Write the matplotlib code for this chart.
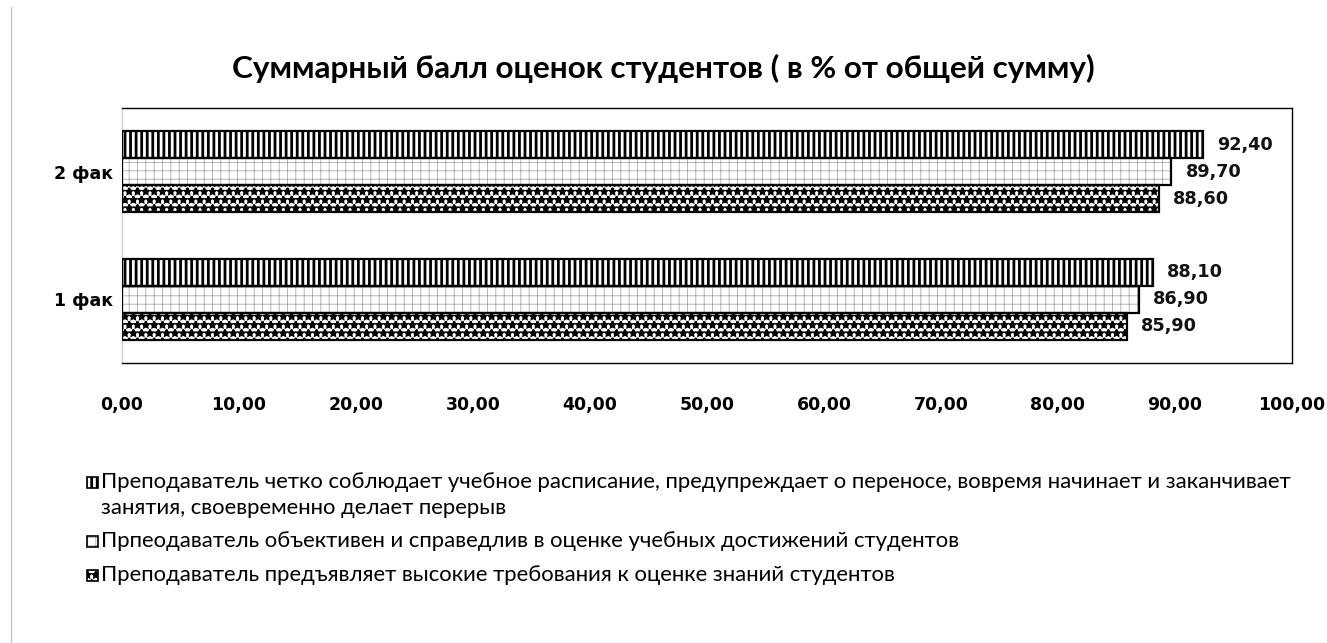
import matplotlib
matplotlib.use("Agg")
import matplotlib.pyplot as plt
from matplotlib.patches import Rectangle, Patch
from matplotlib.lines import Line2D

# ---------------- data ----------------
categories = ["1 фак", "2 фак"]
schedule = [88.10, 92.40]       # series 1
objective = [86.90, 89.70]      # series 2
requirements = [85.90, 88.60]   # series 3
series_labels = [
    ["Преподаватель четко соблюдает учебное расписание, предупреждает о переносе, вовремя начинает и заканчивает",
     "занятия, своевременно делает перерыв"],
    ["Прпеодаватель объективен и справедлив в оценке учебных достижений студентов"],
    ["Преподаватель предъявляет высокие требования к оценке знаний студентов"],
]
x_ticks = [0, 10, 20, 30, 40, 50, 60, 70, 80, 90, 100]
x_tick_labels = ["0,00", "10,00", "20,00", "30,00", "40,00", "50,00",
                 "60,00", "70,00", "80,00", "90,00", "100,00"]
title = "Суммарный балл оценок студентов ( в % от общей сумму)"

# ---------------- styles ----------------
W, H = 1327, 643
per_artist = hasattr(Patch, "set_hatch_linewidth")
if per_artist:
    styles = [
        dict(hatch="|||", hcolor="black", hlw=2.0),
        dict(hatch="++", hcolor="#9a9a9a", hlw=0.5),
        dict(hatch="**", hcolor="black", hlw=1.5),
    ]
else:
    plt.rcParams["hatch.linewidth"] = 1.9
    styles = [
        dict(hatch="|||", hcolor="black", hlw=1.9),
        dict(hatch="++", hcolor="#d4d4d4", hlw=1.9),
        dict(hatch="**", hcolor="black", hlw=1.9),
    ]
num_font = ["DejaVu Sans"]
txt_font = ["Lato", "DejaVu Sans"]

fig = plt.figure(figsize=(W / 100, H / 100), dpi=100)
ax = fig.add_axes([122 / W, 1 - 363 / H, (1292 - 122) / W, (363 - 108) / H])

bar_h = 0.212
series = [schedule, objective, requirements]
offsets = [bar_h, 0.0, -bar_h]
ypos = list(range(len(categories)))

for vals, off, st in zip(series, offsets, styles):
    y = [p + off for p in ypos]
    hb = ax.barh(y, vals, height=bar_h, color="white", edgecolor=st["hcolor"],
                 linewidth=0, hatch=st["hatch"], zorder=2)
    if per_artist:
        for b in hb:
            b.set_hatch_linewidth(st["hlw"])
    ob = ax.barh(y, vals, height=bar_h, fill=False, edgecolor="black",
                 linewidth=1.6, zorder=3)
    ax.bar_label(ob, labels=[f"{v:.2f}".replace(".", ",") for v in vals],
                 padding=10, fontsize=12.7, fontweight="bold",
                 family=num_font, color="#111111")

ax.set_xlim(0, 100)
ax.set_ylim(-0.5, 1.5)
ax.set_xticks(x_ticks)
ax.set_xticklabels(x_tick_labels, fontsize=12.5, fontweight="bold", family=num_font)
ax.set_yticks(ypos)
ax.set_yticklabels(categories, fontsize=12.5, fontweight="bold", family=num_font)
ax.tick_params(axis="x", length=0, pad=24)
ax.tick_params(axis="y", length=0, pad=6.5)
for s in ["top", "right", "bottom"]:
    ax.spines[s].set_color("black")
    ax.spines[s].set_linewidth(1.0)
ax.spines["left"].set_color("#d0d0d0")
ax.spines["left"].set_linewidth(1.0)

# title
t = fig.text(0.5, 1 - 68 / H, title, ha="center", va="center",
             fontsize=20, fontweight="bold", family=txt_font)

# chart-area left border
fig.add_artist(Line2D([10.5 / W, 10.5 / W], [0, 1 - 7 / H], color="#c8c8c8", lw=1.0))

# legend (manual layout)
renderer = fig.canvas.get_renderer()
line_y = [[482, 508], [541], [575]]
texts = []
for labels, ys, st in zip(series_labels, line_y, styles):
    for lab, yy in zip(labels, ys):
        tx = fig.text(101 / W, 1 - yy / H, lab, ha="left", va="center",
                      fontsize=14, family=txt_font)
        texts.append(tx)
    msz = 11
    x0, y0 = 87 / W, 1 - (ys[0] + msz / 2) / H
    hp = Rectangle((x0, y0), msz / W, msz / H, transform=fig.transFigure,
                   facecolor="white", edgecolor=st["hcolor"], linewidth=0,
                   hatch=st["hatch"])
    if per_artist:
        hp.set_hatch_linewidth(st["hlw"])
    fig.add_artist(hp)
    fig.add_artist(Rectangle((x0, y0), msz / W, msz / H, transform=fig.transFigure,
                             fill=False, edgecolor="black", linewidth=1.2))

# fit text widths to the reference
w = texts[0].get_window_extent(renderer).width
fs = 14 * (1297 - 101) / w
for tx in texts:
    tx.set_fontsize(fs)
wt = t.get_window_extent(renderer).width
t.set_fontsize(20 * (1097 - 232) / wt)

fig.savefig("out.png", dpi=100)
